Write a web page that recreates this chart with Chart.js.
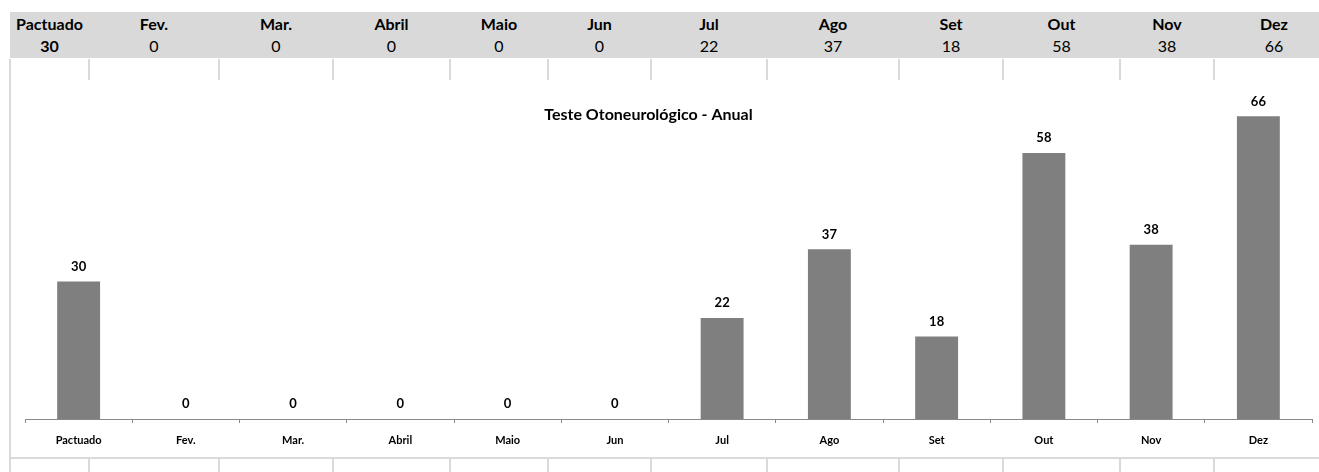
<!DOCTYPE html>
<html>
<head>
<meta charset="utf-8">
<script src="https://cdn.jsdelivr.net/npm/chart.js@4.4.1/dist/chart.umd.min.js"></script>
<style>
  html, body { margin: 0; padding: 0; background: #fff; }
  body { width: 1319px; height: 472px; position: relative; overflow: hidden; font-family: Lato, "Liberation Sans", sans-serif; }
  #band { position: absolute; left: 10px; top: 12px; width: 1320px; height: 46px; background: #d9d9d9; }
  .cell { position: absolute; text-align: center; font-size: 16px; color: #000; }
  .hdr { top: 14px; height: 20px; line-height: 20px; font-weight: bold; }
  .val { top: 36px; height: 20px; line-height: 20px; }
  .vline { position: absolute; width: 2px; background: #d9d9d9; }
  .hline { position: absolute; height: 2px; background: #d9d9d9; }
  #chartBox { position: absolute; left: 11px; top: 80px; width: 1308px; height: 377px; background: #fff; }
</style>
</head>
<body>
<div id="band"></div>
<div id="grid"></div>
<div id="chartBox"><canvas id="c" width="1308" height="377"></canvas></div>
<script>
// Monthly counts for the annual otoneurological test report
const categories = ['Pactuado', 'Fev.', 'Mar.', 'Abril', 'Maio', 'Jun', 'Jul', 'Ago', 'Set', 'Out', 'Nov', 'Dez'];
const values = [30, 0, 0, 0, 0, 0, 22, 37, 18, 58, 38, 66];
const chartTitle = 'Teste Otoneurológico - Anual';

// Worksheet column edges (px) for the summary table above the chart
const columnEdges = [10, 89, 219, 333, 450, 548, 651, 767, 899, 1003, 1120, 1214, 1334];

const grid = document.getElementById('grid');
function addEl(cls, style, text) {
  const d = document.createElement('div');
  d.className = cls;
  Object.assign(d.style, style);
  if (text !== undefined) d.textContent = text;
  grid.appendChild(d);
}
categories.forEach((cat, i) => {
  const left = columnEdges[i], w = columnEdges[i + 1] - columnEdges[i];
  addEl('cell hdr', { left: left + 'px', width: w + 'px' }, cat);
  addEl('cell val', { left: left + 'px', width: w + 'px', fontWeight: i === 0 ? 'bold' : 'normal' }, String(values[i]));
});
// cell borders of the empty rows around the chart
columnEdges.slice(0, -1).forEach(x => {
  addEl('vline', { left: (x - 1) + 'px', top: '59px', height: '22px' });
  addEl('vline', { left: (x - 1) + 'px', top: '458px', height: '14px' });
});
addEl('vline', { left: '9px', top: '59px', height: '413px' });
addEl('hline', { left: '10px', top: '457px', width: '1310px' });

// value labels above each bar
const valueLabels = {
  id: 'valueLabels',
  afterDatasetsDraw(chart) {
    const ctx = chart.ctx;
    const meta = chart.getDatasetMeta(0);
    ctx.save();
    ctx.font = 'bold 13px Lato, "Liberation Sans", sans-serif';
    ctx.fillStyle = '#000';
    ctx.textAlign = 'center';
    ctx.textBaseline = 'middle';
    meta.data.forEach((bar, i) => {
      ctx.fillText(String(chart.data.datasets[0].data[i]), bar.x, bar.y - 15);
    });
    ctx.restore();
  }
};

// chart title drawn over the plot area
const overlayTitle = {
  id: 'overlayTitle',
  afterDraw(chart) {
    const ctx = chart.ctx;
    const a = chart.chartArea;
    ctx.save();
    ctx.font = 'bold 16px Lato, "Liberation Sans", sans-serif';
    ctx.fillStyle = '#000';
    ctx.textAlign = 'center';
    ctx.textBaseline = 'middle';
    ctx.fillText(chartTitle, (a.left + a.right) / 2 - 20, a.top + 17);
    ctx.restore();
  }
};

new Chart(document.getElementById('c'), {
  type: 'bar',
  data: {
    labels: categories,
    datasets: [{
      data: values,
      backgroundColor: '#7f7f7f',
      borderWidth: 0,
      barPercentage: 0.4,
      categoryPercentage: 1.0
    }]
  },
  options: {
    responsive: false,
    animation: false,
    layout: { padding: { left: 14, right: 7, top: 18, bottom: 0 } },
    plugins: { legend: { display: false }, tooltip: { enabled: false }, title: { display: false } },
    scales: {
      x: {
        grid: { display: true, drawOnChartArea: false, drawTicks: true, tickLength: 4, color: '#898989', offset: true },
        border: { display: true, color: '#898989', width: 1 },
        ticks: { color: '#000', padding: 11, font: { family: 'Lato, "Liberation Sans", sans-serif', size: 11, weight: 'bold' }, maxRotation: 0, autoSkip: false },
        afterFit(scale) { scale.height = 38; }
      },
      y: {
        display: false,
        min: 0,
        max: 70
      }
    }
  },
  plugins: [valueLabels, overlayTitle]
});
</script>
</body>
</html>
